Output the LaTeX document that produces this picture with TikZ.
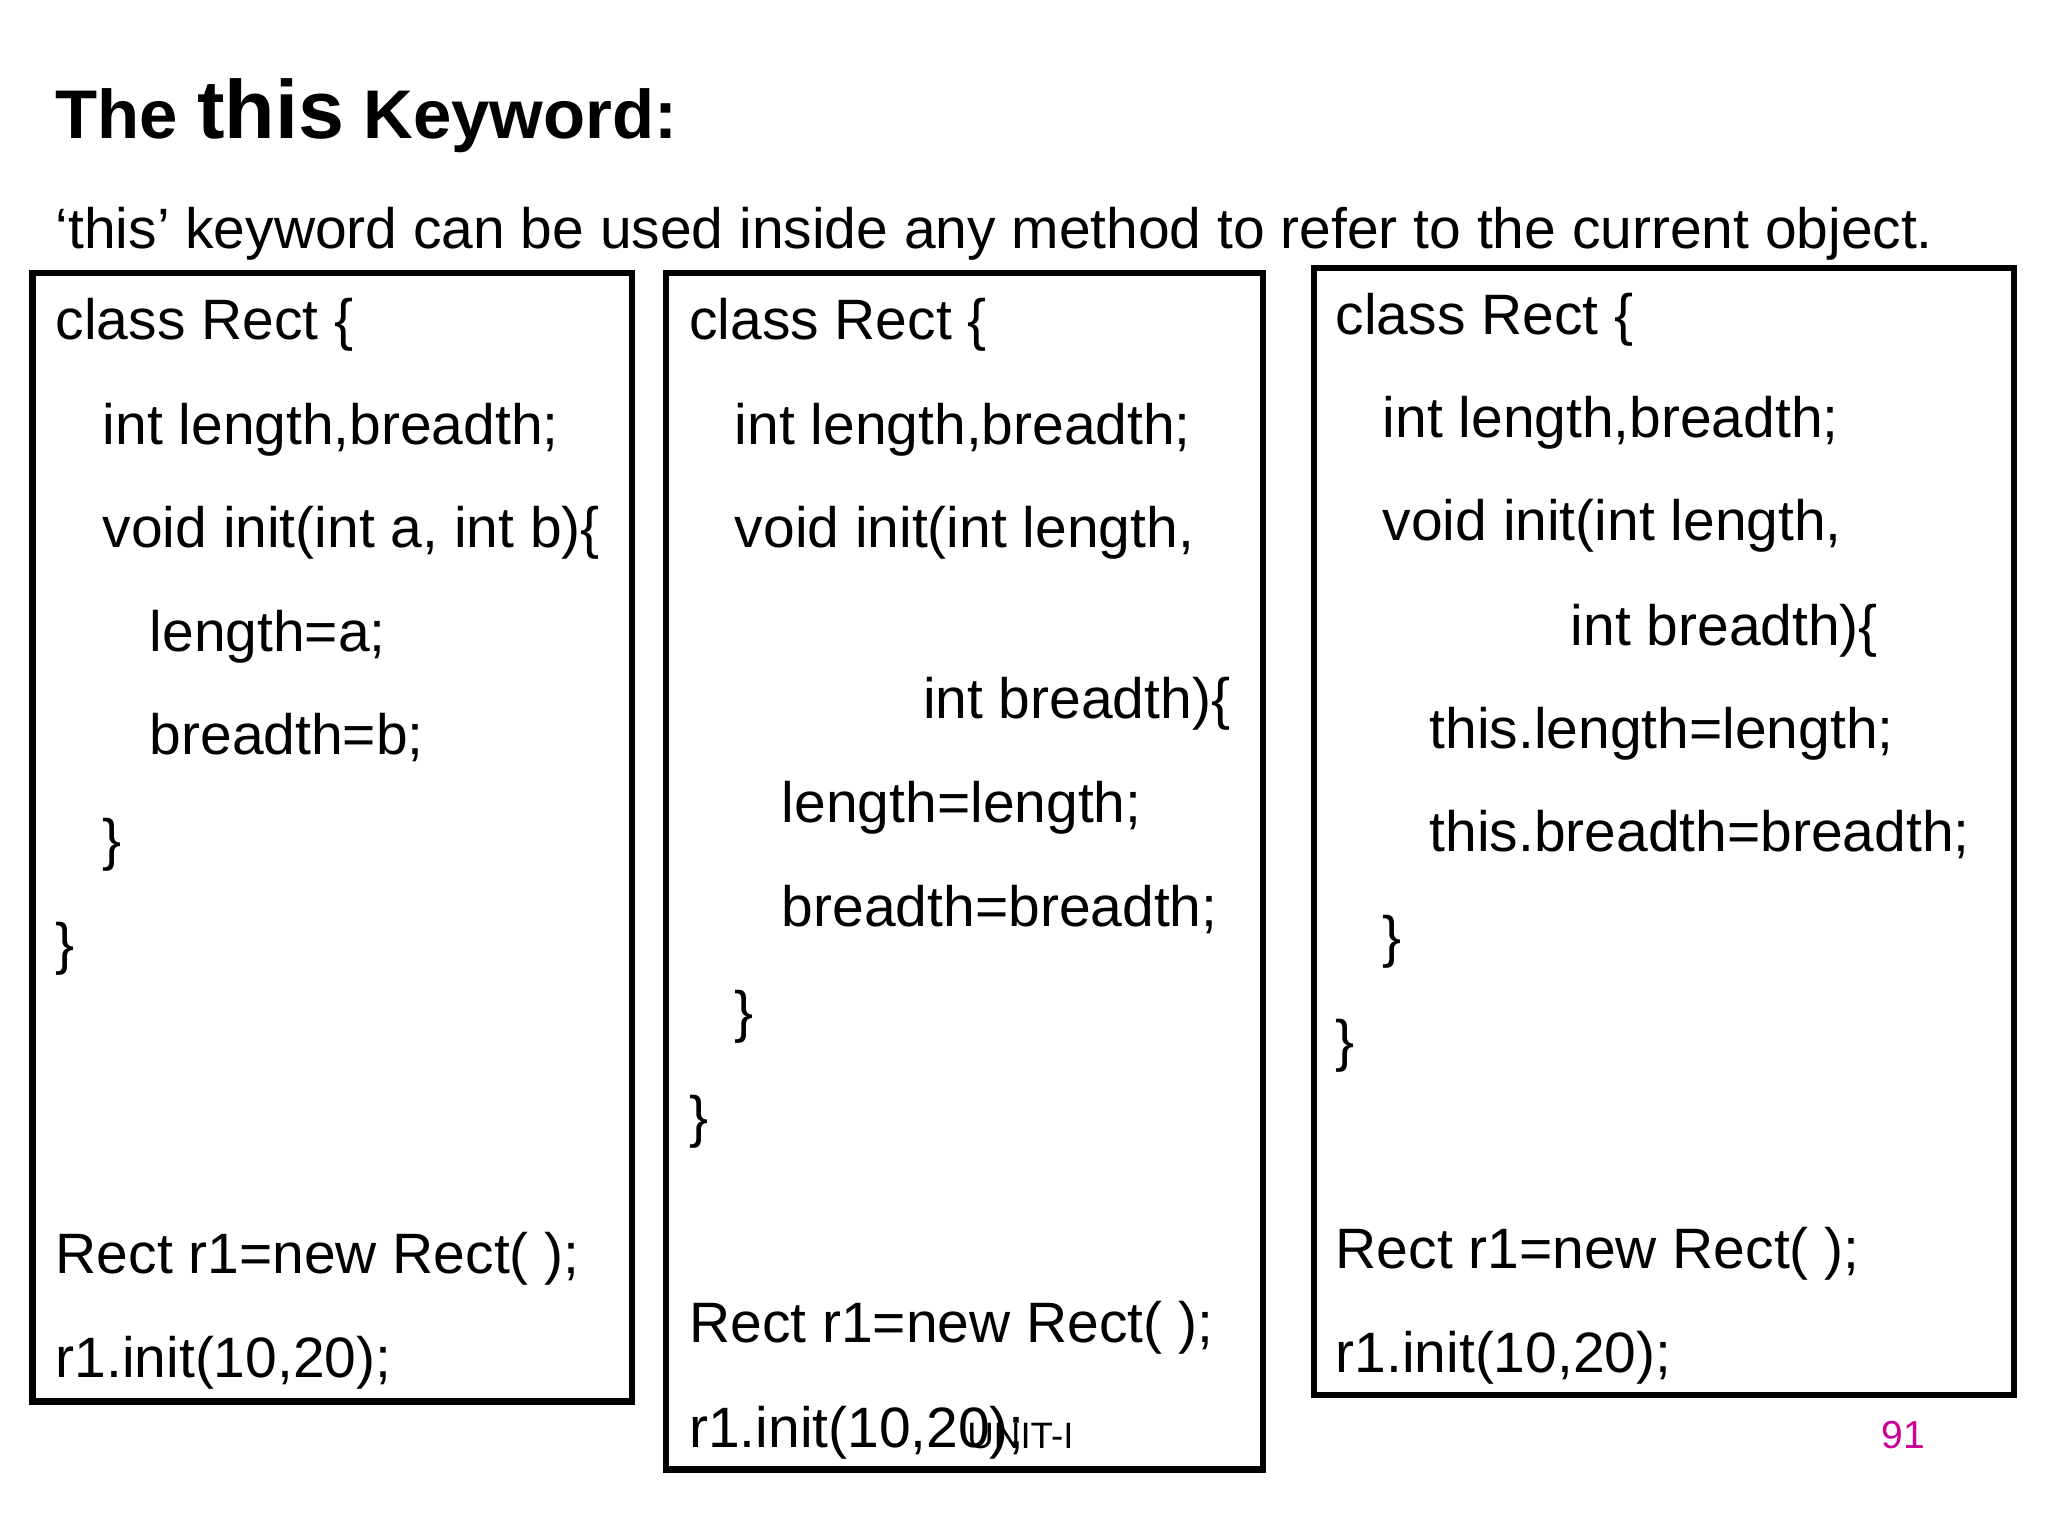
\documentclass[tikz,border=0pt]{standalone}
\usepackage{fontspec}
\setmainfont{Liberation Sans}
\tikzset{code/.style={anchor=base west,inner sep=0pt,font=\fontsize{12.4}{14}\selectfont},
  panel/.style={draw,line width=1.4pt}}

\begin{document}
\begin{tikzpicture}[x=0.01cm,y=-0.01cm]
\useasboundingbox (0,0) rectangle (1568,1176);

\node[code,font=\bfseries\fontsize{15}{16}\selectfont] (title) at (42,106) {The {\fontsize{18}{20}\selectfont this} Keyword:};
\node[code] (intro) at (42,190) {`this' keyword can be used inside any method to refer to the current object.};

% first box
\draw[panel] (25,209) rectangle (484,1073);
\node[code] (a1) at (42,260) {class Rect \{};
\node[code] (a2) at (78,340) {int length,breadth;};
\node[code] (a3) at (78,419) {void init(int a, int b)\{};
\node[code] (a4) at (114,499) {length=a;};
\node[code] (a5) at (114,578) {breadth=b;};
\node[code] (a6) at (78,658) {\}};
\node[code] (a7) at (42,738) {\}};
\node[code] (a8) at (42,975) {Rect r1=new Rect( );};
\node[code] (a9) at (42,1055) {r1.init(10,20);};

% second box
\draw[panel] (510,209) rectangle (967,1125);
\node[code] (b1) at (527,260) {class Rect \{};
\node[code] (b2) at (562,340) {int length,breadth;};
\node[code] (b3) at (562,419) {void init(int length,};
\node[code] (b4) at (706,550) {int breadth)\{};
\node[code] (b5) at (598,630) {length=length;};
\node[code] (b6) at (598,709) {breadth=breadth;};
\node[code] (b7) at (562,790) {\}};
\node[code] (b8) at (527,870) {\}};
\node[code] (b9) at (527,1028) {Rect r1=new Rect( );};
\node[code] (b10) at (527,1108) {r1.init(10,20);};

% third box
\draw[panel] (1006,205) rectangle (1542,1068);
\node[code] (c1) at (1022,256) {class Rect \{};
\node[code] (c2) at (1058,335) {int length,breadth;};
\node[code] (c3) at (1058,414) {void init(int length,};
\node[code] (c4) at (1202,494) {int breadth)\{};
\node[code] (c5) at (1094,573) {this.length=length;};
\node[code] (c6) at (1094,652) {this.breadth=breadth;};
\node[code] (c7) at (1058,732) {\}};
\node[code] (c8) at (1022,812) {\}};
\node[code] (c9) at (1022,971) {Rect r1=new Rect( );};
\node[code] (c10) at (1022,1051) {r1.init(10,20);};

\node[code,font=\fontsize{8}{9}\selectfont] (unit) at (740,1109) {UNIT-I};
\node[code,font=\fontsize{8.5}{9}\selectfont,text={rgb,255:red,204;green,0;blue,153}] (page) at (1440,1109) {91};
\end{tikzpicture}
\end{document}
